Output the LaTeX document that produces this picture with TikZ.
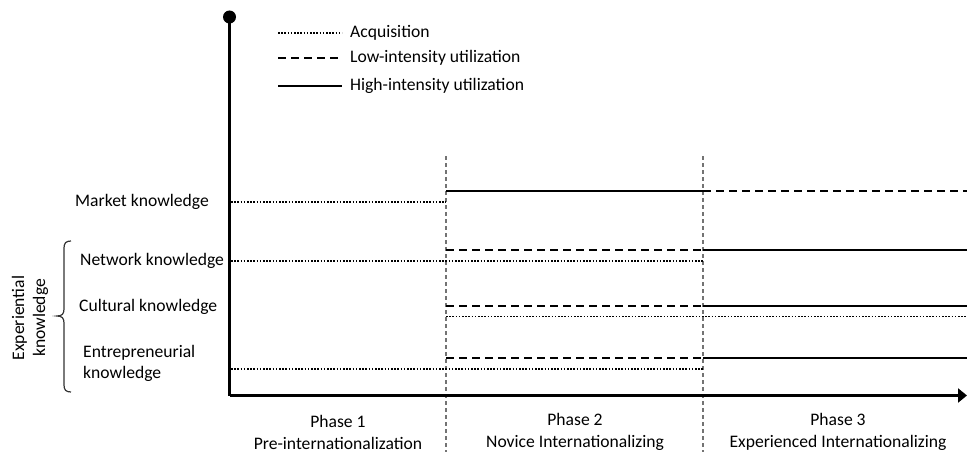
\documentclass[tikz,border=0pt]{standalone}
\usepackage{fontspec}
\setmainfont{Carlito}
\usetikzlibrary{arrows.meta}
\tikzset{
  acq/.style={line width=1.7pt, dash pattern=on 1.5pt off 1.7pt},
  low/.style={line width=2pt, dash pattern=on 8pt off 5pt},
  high/.style={line width=2pt},
  phasesep/.style={black!55, line width=1.2pt, dash pattern=on 4pt off 3pt},
  axis/.style={line width=2.3pt},
  lbl/.style={font=\fontsize{17.6}{21}\selectfont, inner sep=0pt},
}
\begin{document}
\begin{tikzpicture}[x=1pt,y=-1pt]
\useasboundingbox (0,0) rectangle (967,452);
% phase separators
\draw[phasesep] (446,156) -- (446,452);
\draw[phasesep] (703,156) -- (703,452);
% axes
\coordinate (top) at (229.5,17);
\coordinate (origin) at (229.5,395.5);
\coordinate (xend) at (967,395.5);
\draw[axis] (top) -- (origin);
\draw[axis, -{Triangle[length=9pt,width=14pt]}] (origin) -- (xend);
\fill (top) circle (6.5);
% legend
\draw[acq] (278,33) -- (342,33);
\draw[low] (278,58) -- (342,58);
\draw[high] (278,86) -- (342,86);
\node[lbl, anchor=west] (lacq) at (350,33) {Acquisition};
\node[lbl, anchor=west] (llow) at (350,58) {Low-intensity utilization};
\node[lbl, anchor=west] (lhigh) at (350,86) {High-intensity utilization};
% market knowledge
\draw[acq] (231,202) -- (446,202);
\draw[high] (446,190.5) -- (703,190.5);
\draw[low] (703,190.5) -- (967,190.5);
% network knowledge
\draw[acq] (231,261) -- (703,261);
\draw[low] (446,249.5) -- (703,249.5);
\draw[high] (703,249.5) -- (967,249.5);
% cultural knowledge
\draw[low] (446,305.5) -- (703,305.5);
\draw[high] (703,305.5) -- (967,305.5);
\draw[acq] (446,316.5) -- (967,316.5);
% entrepreneurial knowledge
\draw[low] (446,357.5) -- (703,357.5);
\draw[high] (703,357.5) -- (967,357.5);
\draw[acq] (231,369) -- (703,369);
% left labels
\node[lbl, anchor=west] (mk) at (75,202) {Market knowledge};
\node[lbl, anchor=west] (nk) at (80,261) {Network knowledge};
\node[lbl, anchor=west] (ck) at (79,307) {Cultural knowledge};
\node[lbl, anchor=west, align=left] (ek) at (83,363) {Entrepreneurial\\knowledge};
\node[lbl, rotate=90, align=center] (exp) at (30,318) {Experiential\\knowledge};
% brace
\draw[line width=1.2pt, black!80] (71,241) .. controls (66,241) and (64,243) .. (64,248) -- (64,309)
  .. controls (64,314) and (62,316) .. (57,316)
  .. controls (62,316) and (64,318) .. (64,323) -- (64,385)
  .. controls (64,390) and (66,392) .. (71,392);
% phase labels
\node[lbl, align=center] (p1) at (338,432) {Phase 1\\[1pt]Pre-internationalization};
\node[lbl, align=center] (p2) at (575,432) {Phase 2\\[1pt]Novice Internationalizing};
\node[lbl, align=center] (p3) at (838,432) {Phase 3\\[1pt]Experienced Internationalizing};
\end{tikzpicture}
\end{document}
